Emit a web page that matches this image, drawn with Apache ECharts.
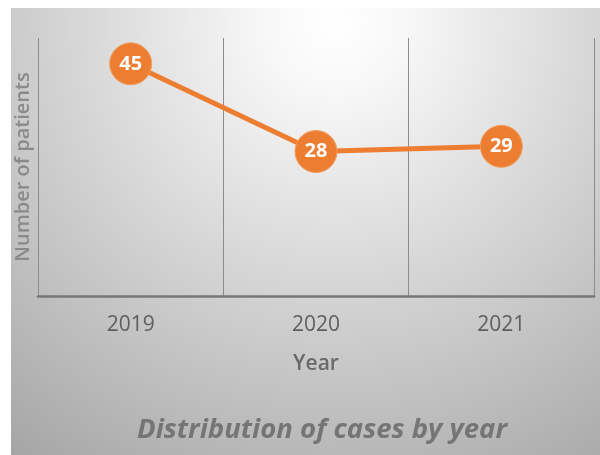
<!DOCTYPE html>
<html>
<head>
<meta charset="utf-8">
<script src="https://cdn.jsdelivr.net/npm/echarts@6/dist/echarts.min.js"></script>
<style>
  html, body { margin: 0; padding: 0; background: #ffffff; }
  #chart { width: 600px; height: 455px; }
</style>
</head>
<body>
<div id="chart"></div>
<script>
// Yearly patient counts
const years = ['2019', '2020', '2021'];
const patients = [45, 28, 29];

const chart = echarts.init(document.getElementById('chart'));

const font = '"Open Sans", Lato, sans-serif';

chart.setOption({
  animation: false,
  graphic: [{
    type: 'rect',
    z: -10,
    silent: true,
    shape: { x: 11, y: 8, width: 589, height: 447 },
    style: {
      fill: {
        type: 'radial', x: 0.55, y: 0.03, r: 1.25,
        colorStops: [
          { offset: 0, color: '#ffffff' },
          { offset: 0.12, color: '#f8f8f8' },
          { offset: 1, color: '#a2a2a2' }
        ]
      }
    }
  }],
  title: {
    text: 'Distribution of cases by year',
    left: 317,
    textAlign: 'center',
    top: 412,
    textStyle: {
      fontFamily: font,
      fontSize: 27.5,
      fontWeight: 'bold',
      fontStyle: 'italic',
      color: '#757575'
    }
  },
  grid: { left: 38, right: 6, top: 38, bottom: 159 },
  xAxis: {
    type: 'category',
    data: years,
    boundaryGap: true,
    name: 'Year',
    nameLocation: 'middle',
    nameGap: 58,
    nameTextStyle: { fontFamily: font, fontSize: 21, fontWeight: 600, color: '#6a6a6a' },
    axisLine: { lineStyle: { color: '#777777', width: 2.5 } },
    axisTick: { show: false },
    axisLabel: { fontFamily: font, fontSize: 21, color: '#5f5f5f', margin: 19 },
    splitLine: { show: true, interval: 0, lineStyle: { color: '#8c8c8c', width: 1 } }
  },
  yAxis: {
    type: 'value',
    min: 0,
    max: 50,
    interval: 10,
    name: 'Number of patients',
    nameLocation: 'middle',
    nameRotate: 90,
    nameGap: 5,
    nameTextStyle: { fontFamily: font, fontSize: 20, fontWeight: 600, color: '#8a8a8a' },
    axisLine: { show: false },
    axisTick: { show: false },
    axisLabel: { show: false },
    splitLine: { show: false }
  },
  series: [{
    type: 'line',
    data: patients,
    symbol: 'circle',
    symbolSize: 42,
    lineStyle: { color: '#ED7D31', width: 5 },
    itemStyle: { color: '#ED7D31', borderColor: '#f0a060', borderWidth: 1 },
    label: {
      show: true,
      position: 'inside',
      fontFamily: font,
      fontSize: 20,
      fontWeight: 'bold',
      color: '#ffffff'
    }
  }]
});
</script>
</body>
</html>
